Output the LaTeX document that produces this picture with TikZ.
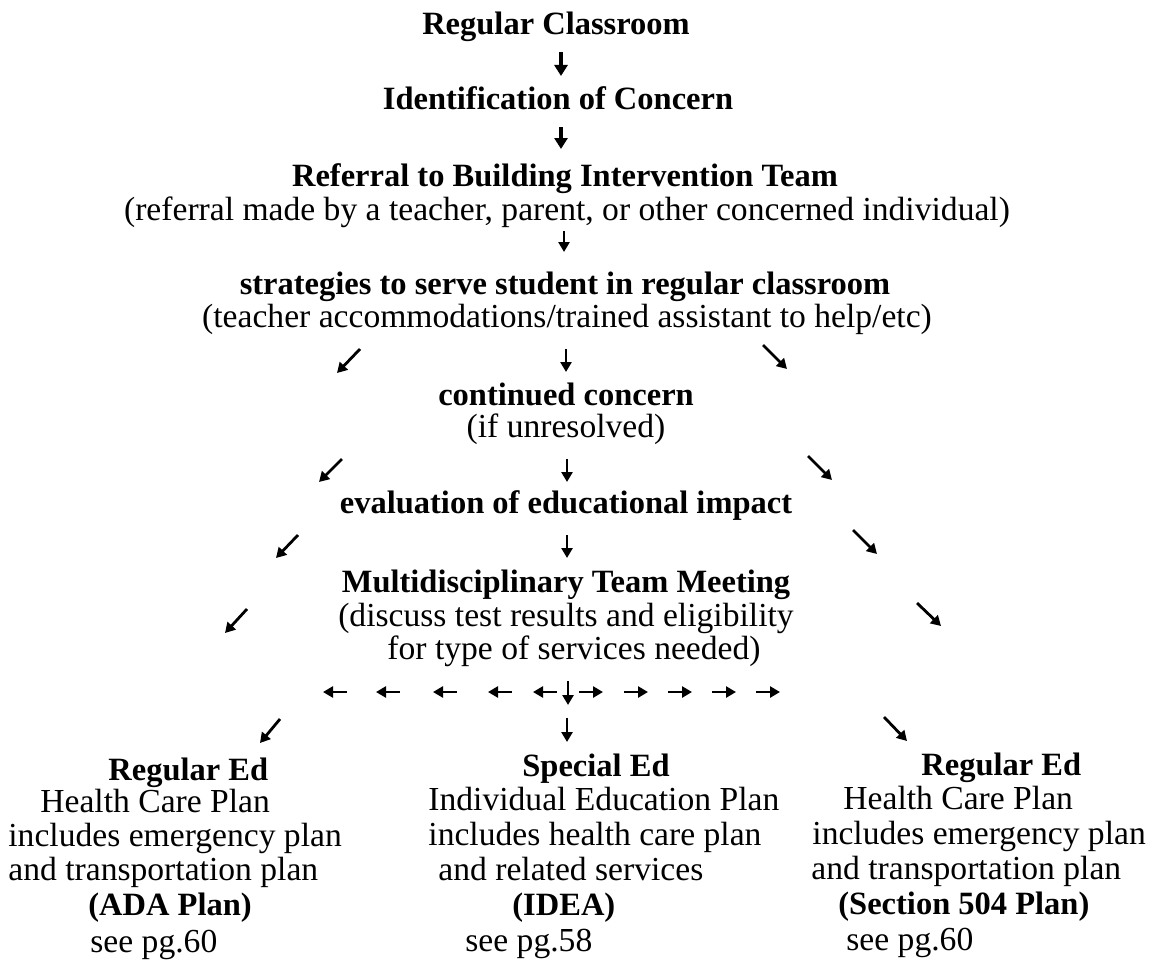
\documentclass[tikz,border=0pt]{standalone}
\usepackage{fontspec}
\setmainfont{Liberation Serif}
\usetikzlibrary{arrows.meta}
\tikzset{
  txt/.style={font=\fontsize{16.8}{19}\selectfont, inner sep=0pt, anchor=base},
  btxt/.style={txt, font=\fontsize{16.25}{19}\selectfont\bfseries},
  ltxt/.style={txt, anchor=base west},
  lbtxt/.style={btxt, anchor=base west},
  arr/.style={line width=1.4pt, -{Triangle[length=5pt,width=5.5pt]}},
  barr/.style={line width=1.9pt, -{Triangle[length=5.5pt,width=6.5pt]}},
}
\begin{document}
\begin{tikzpicture}[x=0.5pt,y=-0.5pt]
\useasboundingbox (0,0) rectangle (1149,974);
% main column
\node[btxt] (rc)  at (556,35)  {Regular Classroom};
\node[btxt] (ic)  at (558,110) {Identification of Concern};
\node[btxt] (rb)  at (565,186) {Referral to Building Intervention Team};
\node[txt]  (rbn) at (567,220) {(referral made by a teacher, parent, or other concerned individual)};
\node[btxt] (ss)  at (565,294) {strategies to serve student in regular classroom};
\node[txt]  (ssn) at (567,327) {(teacher accommodations/trained assistant to help/etc)};
\node[btxt] (cc)  at (566,405) {continued concern};
\node[txt]  (ccn) at (566,437) {(if unresolved)};
\node[btxt] (ev)  at (566,513) {evaluation of educational impact};
\node[btxt] (mt)  at (566,592) {Multidisciplinary Team Meeting};
\node[txt]  (mt1) at (566,626) {(discuss test results and eligibility};
\node[txt]  (mt2) at (574,659) {for type of services needed)};
% bottom left block
\node[lbtxt] (l1) at (108,780) {Regular Ed};
\node[ltxt]  (l2) at (40,812)  {Health Care Plan};
\node[ltxt]  (l3) at (8,846)   {includes emergency plan};
\node[ltxt]  (l4) at (8,880)   {and transportation plan};
\node[lbtxt] (l5) at (88,915)  {(ADA Plan)};
\node[ltxt]  (l6) at (90,952)  {see pg.60};
% bottom middle block
\node[lbtxt] (m1) at (522,776) {Special Ed};
\node[ltxt]  (m2) at (428,810) {Individual Education Plan};
\node[ltxt]  (m3) at (428,845) {includes health care plan};
\node[ltxt]  (m4) at (438,880) {and related services};
\node[lbtxt] (m5) at (512,915) {(IDEA)};
\node[ltxt]  (m6) at (465,951) {see pg.58};
% bottom right block
\node[lbtxt] (r1) at (921,775) {Regular Ed};
\node[ltxt]  (r2) at (843,809) {Health Care Plan};
\node[ltxt]  (r3) at (812,844) {includes emergency plan};
\node[ltxt]  (r4) at (811,879) {and transportation plan};
\node[lbtxt] (r5) at (838,914) {(Section 504 Plan)};
\node[ltxt]  (r6) at (846,950) {see pg.60};
% vertical arrows
\coordinate (a1s) at (561,52);  \coordinate (a1e) at (561,76);
\coordinate (a2s) at (561,127); \coordinate (a2e) at (561,149);
\coordinate (a3s) at (564,231); \coordinate (a3e) at (564,252);
\coordinate (a4s) at (566,349); \coordinate (a4e) at (566,372);
\coordinate (a5s) at (567,459); \coordinate (a5e) at (567,482);
\coordinate (a6s) at (567,535); \coordinate (a6e) at (567,558);
\coordinate (a7s) at (568,681); \coordinate (a7e) at (568,705);
\coordinate (a8s) at (567,718); \coordinate (a8e) at (567,742);
\draw[barr] (a1s) -- (a1e);
\draw[barr] (a2s) -- (a2e);
\draw[arr] (a3s) -- (a3e);
\draw[arr] (a4s) -- (a4e);
\draw[arr] (a5s) -- (a5e);
\draw[arr] (a6s) -- (a6e);
\draw[arr] (a7s) -- (a7e);
\draw[arr] (a8s) -- (a8e);
% diagonal arrows, left
\coordinate (d1s) at (360,349); \coordinate (d1e) at (337,373);
\coordinate (d2s) at (342,459); \coordinate (d2e) at (319,482);
\coordinate (d3s) at (298,535); \coordinate (d3e) at (276,558);
\coordinate (d4s) at (247,609); \coordinate (d4e) at (225,633);
\coordinate (d5s) at (280,719); \coordinate (d5e) at (260,743);
% diagonal arrows, right
\coordinate (e1s) at (763,345); \coordinate (e1e) at (787,369);
\coordinate (e2s) at (808,456); \coordinate (e2e) at (832,480);
\coordinate (e3s) at (853,530); \coordinate (e3e) at (877,554);
\coordinate (e4s) at (917,603); \coordinate (e4e) at (941,626);
\coordinate (e5s) at (884,717); \coordinate (e5e) at (907,741);
\foreach \i in {1,...,5} {
  \draw[arr] (d\i s) -- (d\i e);
  \draw[arr] (e\i s) -- (e\i e);
}
% horizontal arrow row
\foreach \x [count=\k] in {335,388,445,500,545} {
  \coordinate (hl\k s) at (\x+12,692); \coordinate (hl\k e) at (\x-12,692);
  \draw[arr] (hl\k s) -- (hl\k e);
}
\foreach \x [count=\k] in {591,636,680,724,768} {
  \coordinate (hr\k s) at (\x-12,692); \coordinate (hr\k e) at (\x+12,692);
  \draw[arr] (hr\k s) -- (hr\k e);
}
\end{tikzpicture}
\end{document}
